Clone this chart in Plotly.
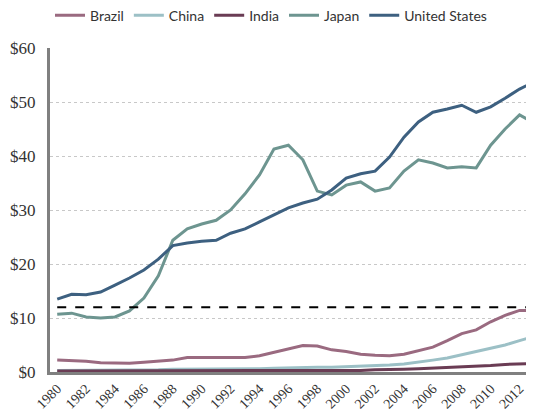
import plotly.graph_objects as go

years = list(range(1980, 2014))

brazil = [2.2, 2.1, 2.0, 1.7, 1.7, 1.6, 1.8, 2.0, 2.2, 2.7, 2.7, 2.8, 2.8, 2.7, 3.0, 3.6, 4.3,
          4.9, 4.8, 4.1, 3.8, 3.3, 3.1, 3.0, 3.3, 3.9, 4.6, 5.8, 7.1, 7.8, 9.3, 10.5, 11.4, 11.4]
china = [0.3, 0.3, 0.3, 0.3, 0.3, 0.4, 0.4, 0.4, 0.5, 0.5, 0.5, 0.5, 0.5, 0.6, 0.6, 0.7, 0.8,
         0.8, 0.9, 0.9, 1.0, 1.0, 1.1, 1.3, 1.5, 1.8, 2.2, 2.6, 3.2, 3.7, 4.3, 5.0, 5.8, 6.6]
india = [0.2, 0.2, 0.2, 0.2, 0.2, 0.2, 0.2, 0.3, 0.3, 0.3, 0.3, 0.2, 0.2, 0.2, 0.3, 0.3, 0.3,
         0.3, 0.3, 0.3, 0.3, 0.3, 0.4, 0.4, 0.5, 0.6, 0.7, 0.8, 0.9, 1.0, 1.2, 1.4, 1.5, 1.6]
japan = [10.7, 10.9, 10.2, 10.0, 10.2, 11.3, 13.7, 17.8, 24.4, 26.5, 27.4, 28.1, 30.0, 33.0,
         36.5, 41.3, 42.0, 39.3, 33.5, 32.8, 34.6, 35.2, 33.5, 34.1, 37.2, 39.3, 38.7, 37.8,
         38.0, 37.8, 42.0, 45.0, 47.6, 46.1]
usa = [13.5, 14.4, 14.3, 14.8, 16.1, 17.4, 18.9, 20.9, 23.4, 23.9, 24.2, 24.4, 25.7, 26.5,
       27.8, 29.1, 30.4, 31.3, 32.0, 33.7, 35.9, 36.7, 37.2, 39.8, 43.5, 46.3, 48.1, 48.7,
       49.4, 48.1, 49.1, 50.7, 52.4, 53.7]
reference_level = 12

series = [
    ("Brazil", brazil, "#9a6a80"),
    ("China", china, "#9cc0c6"),
    ("India", india, "#6a3c54"),
    ("Japan", japan, "#6d9590"),
    ("United States", usa, "#3d6080"),
]

fig = go.Figure()
for name, vals, color in series:
    fig.add_trace(go.Scatter(x=years, y=vals, name=name, mode="lines",
                             line=dict(color=color, width=3)))

fig.add_trace(go.Scatter(x=[years[0], years[-1]], y=[reference_level] * 2, mode="lines",
                         line=dict(color="black", width=2, dash="dash"), showlegend=False))

# page body has an 8px margin, so the figure is a bit smaller than the window
fig.update_layout(
    width=526, height=405,
    margin=dict(l=42, r=0, t=40, b=41, autoexpand=False),
    plot_bgcolor="white", paper_bgcolor="white",
    legend=dict(orientation="h", x=0.0, xanchor="left", y=1.10, yanchor="middle",
                font=dict(family="Lato", size=14, color="#333"), itemwidth=30,
                tracegroupgap=0, itemclick=False),
    showlegend=True,
)
fig.update_xaxes(range=[1979.5, 2013], tickvals=list(range(1980, 2013, 2)), tickangle=-45,
                 showgrid=False, showline=True, linecolor="#808080", linewidth=3,
                 ticks="", automargin=False, ticklabelstandoff=0,
                 tickfont=dict(family="Liberation Serif", size=14, color="#333"))
fig.update_yaxes(range=[0, 60], dtick=10, tickprefix="$", showgrid=True,
                 gridcolor="#c8c8c8", griddash="dot", gridwidth=1, zeroline=False,
                 showline=True, linecolor="#808080", linewidth=3, ticks="", automargin=False,
                 ticklabelstandoff=8,
                 tickfont=dict(family="Liberation Serif", size=17, color="#333"))

fig.write_html("out.html")
